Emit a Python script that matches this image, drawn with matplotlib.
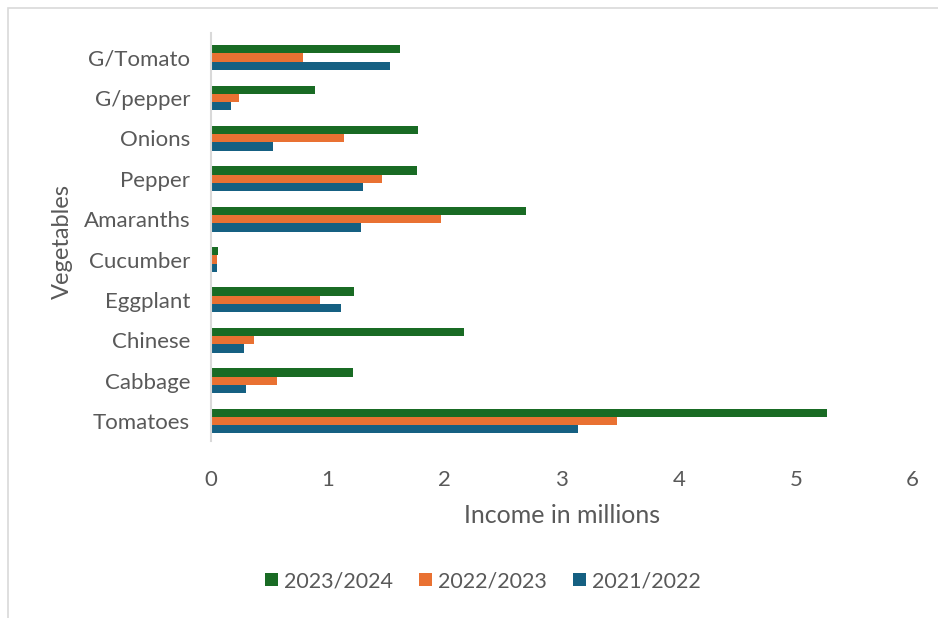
import numpy as np
import matplotlib.pyplot as plt
from matplotlib.patches import Rectangle

# income per vegetable, in millions (bottom to top on the chart)
vegetables = ['Tomatoes', 'Cabbage', 'Chinese', 'Eggplant', 'Cucumber',
              'Amaranths', 'Pepper', 'Onions', 'G/pepper', 'G/Tomato']
income_2023_24 = [5.27, 1.21, 2.16, 1.22, 0.06, 2.69, 1.76, 1.77, 0.89, 1.62]
income_2022_23 = [3.47, 0.56, 0.37, 0.93, 0.05, 1.97, 1.46, 1.14, 0.24, 0.79]
income_2021_22 = [3.14, 0.30, 0.28, 1.11, 0.05, 1.28, 1.30, 0.53, 0.17, 1.53]
season_labels = ['2023/2024', '2022/2023', '2021/2022']
x_ticks = [0, 1, 2, 3, 4, 5, 6]

GREEN = '#196B24'
ORANGE = '#E97132'
BLUE = '#156082'
TEXT = '#595959'

plt.rcParams['font.family'] = ['Lato', 'DejaVu Sans']

fig = plt.figure(figsize=(9.38, 6.18), dpi=100)
ax = fig.add_axes([0.225, 0.286, 0.748, 0.647])

# light frame round the chart area
fig.patches.append(Rectangle((8 / 938, -0.05), 1.1, 1 - 8 / 618 + 0.05,
                             transform=fig.transFigure, fill=False,
                             edgecolor='#d9d9d9', linewidth=1.2))

y = np.arange(len(vegetables))
h = 0.205
ax.barh(y + h, income_2023_24, height=h, color=GREEN, label=season_labels[0])
ax.barh(y, income_2022_23, height=h, color=ORANGE, label=season_labels[1])
ax.barh(y - h, income_2021_22, height=h, color=BLUE, label=season_labels[2])

ax.set_xlim(0, 6)
ax.set_ylim(-0.5, 9.4)
ax.set_xticks(x_ticks)
ax.set_xticklabels([str(t) for t in x_ticks])
ax.set_yticks(y)
ax.set_yticklabels(vegetables)

for s in ['top', 'right', 'bottom']:
    ax.spines[s].set_visible(False)
ax.spines['left'].set_color('#d9d9d9')
ax.spines['left'].set_linewidth(1.5)
ax.spines['left'].set_bounds(-0.5, 9.6)

ax.tick_params(axis='both', length=0, colors=TEXT, labelsize=16)
ax.tick_params(axis='x', pad=21)
ax.tick_params(axis='y', pad=15)

ax.set_xlabel('Income in millions', fontsize=18, color=TEXT, labelpad=10)
ax.set_ylabel('Vegetables', fontsize=17, color=TEXT, labelpad=8)

leg = fig.legend(loc='center', bbox_to_anchor=(483 / 938, 1 - 581 / 618),
                 ncol=3, frameon=False, fontsize=15.5, handlelength=0.6,
                 handleheight=0.6, handletextpad=0.3, columnspacing=1.2)
for t in leg.get_texts():
    t.set_color(TEXT)

fig.savefig('out.png', dpi=100, facecolor='white')
